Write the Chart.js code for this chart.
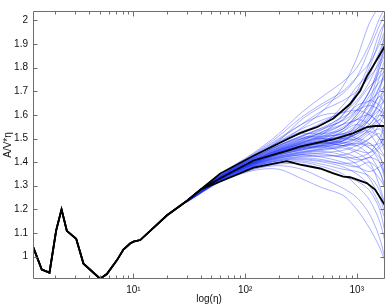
<!DOCTYPE html>
<html lang="en">
<head>
<meta charset="UTF-8">
<title>A/V*η</title>
<script src="https://cdn.jsdelivr.net/npm/chart.js"></script>
<style>
  body { margin: 0; background: #fff; }
  canvas { display: block; }
</style>
</head>
<body>
<canvas id="myChart" width="388" height="307"></canvas>
<script>
// black curves : one common start, then three branches
const etaStart = [1.26, 1.51, 1.77, 2.03, 2.27, 2.53, 3.07, 3.57, 5.03, 5.78, 7.1, 8.13, 9.33, 10, 11.5, 20, 30, 40];
const valStart = [1.042, 0.945, 0.932, 1.11, 1.20, 1.109, 1.075, 0.97, 0.906, 0.926, 0.984, 1.03, 1.055, 1.063, 1.07, 1.175, 1.235, 1.284];

const etaUpper = [60, 119, 236, 310, 438, 617, 871, 1071, 1229, 1617, 1794];
const valUpper = [1.352, 1.427, 1.496, 1.523, 1.548, 1.585, 1.646, 1.701, 1.762, 1.857, 1.893];
const etaMiddle = [60, 119, 236, 310, 617, 933, 1229, 1458, 1794];
const valMiddle = [1.332, 1.407, 1.448, 1.466, 1.496, 1.523, 1.548, 1.553, 1.553];
const etaLower = [60, 119, 236, 310, 469, 617, 758, 871, 1229, 1458, 1617, 1794];
const valLower = [1.318, 1.377, 1.404, 1.389, 1.373, 1.352, 1.339, 1.336, 1.311, 1.284, 1.25, 1.216];

// blue runs, all read at the same eta values
const etaBlue = [30, 60, 120, 200, 320, 500, 750, 1000, 1300, 1600, 1794];
const blueRuns = [
  [1.237,1.338,1.418,1.478,1.545,1.618,1.720,1.840,1.990,2.060,2.080],
  [1.238,1.341,1.425,1.490,1.580,1.640,1.690,1.760,1.880,1.980,2.030],
  [1.235,1.330,1.398,1.445,1.480,1.520,1.600,1.700,1.820,1.950,1.990],
  [1.235,1.333,1.402,1.440,1.462,1.470,1.500,1.560,1.660,1.800,1.900],
  [1.233,1.326,1.388,1.420,1.440,1.455,1.470,1.500,1.540,1.600,1.640],
  [1.239,1.345,1.432,1.500,1.560,1.600,1.610,1.620,1.600,1.560,1.520],
  [1.236,1.336,1.410,1.455,1.490,1.530,1.560,1.580,1.640,1.720,1.760],
  [1.234,1.329,1.395,1.430,1.450,1.470,1.440,1.420,1.380,1.330,1.290],
  [1.235,1.332,1.400,1.445,1.470,1.490,1.520,1.500,1.470,1.480,1.500],
  [1.232,1.322,1.380,1.405,1.410,1.400,1.380,1.350,1.300,1.220,1.160],
  [1.237,1.340,1.420,1.470,1.510,1.540,1.580,1.650,1.720,1.760,1.790],
  [1.234,1.328,1.392,1.425,1.445,1.460,1.490,1.530,1.590,1.650,1.700],
  [1.236,1.334,1.404,1.448,1.478,1.500,1.530,1.560,1.520,1.460,1.420],
  [1.233,1.325,1.386,1.415,1.430,1.420,1.400,1.380,1.360,1.380,1.400],
  [1.238,1.343,1.428,1.485,1.530,1.560,1.640,1.720,1.780,1.870,1.930],
  [1.235,1.331,1.397,1.435,1.460,1.480,1.470,1.450,1.440,1.470,1.520],
  [1.236,1.335,1.407,1.452,1.485,1.510,1.540,1.600,1.680,1.740,1.760],
  [1.231,1.320,1.376,1.398,1.400,1.380,1.350,1.300,1.240,1.150,1.060],
  [1.237,1.338,1.415,1.465,1.500,1.500,1.480,1.470,1.500,1.560,1.600],
  [1.234,1.329,1.394,1.432,1.455,1.475,1.500,1.520,1.560,1.620,1.680],
  [1.235,1.333,1.401,1.442,1.472,1.495,1.510,1.540,1.600,1.700,1.820],
  [1.233,1.327,1.390,1.423,1.440,1.450,1.460,1.440,1.400,1.300,1.220],
  [1.237,1.339,1.422,1.480,1.520,1.520,1.540,1.600,1.660,1.640,1.600],
  [1.234,1.330,1.396,1.438,1.465,1.490,1.530,1.580,1.600,1.560,1.540],
  [1.236,1.334,1.405,1.450,1.475,1.485,1.470,1.480,1.520,1.540,1.500],
  [1.232,1.324,1.384,1.412,1.425,1.430,1.420,1.390,1.330,1.250,1.180],
  [1.239,1.344,1.430,1.495,1.560,1.620,1.660,1.700,1.760,1.820,1.880],
  [1.235,1.332,1.399,1.440,1.468,1.488,1.500,1.490,1.460,1.420,1.380],
  [1.236,1.336,1.408,1.458,1.495,1.520,1.560,1.620,1.700,1.800,1.860],
  [1.232,1.321,1.378,1.400,1.405,1.390,1.370,1.360,1.340,1.280,1.200],
  [1.236,1.337,1.412,1.460,1.492,1.530,1.580,1.640,1.660,1.700,1.720],
  [1.235,1.331,1.398,1.436,1.458,1.465,1.480,1.500,1.480,1.440,1.420],
  [1.236,1.335,1.406,1.450,1.480,1.500,1.500,1.520,1.560,1.600,1.580],
  [1.233,1.326,1.389,1.418,1.432,1.440,1.450,1.470,1.500,1.520,1.460],
  [1.237,1.340,1.418,1.470,1.505,1.510,1.520,1.560,1.620,1.680,1.700],
  [1.235,1.333,1.402,1.445,1.470,1.480,1.490,1.510,1.550,1.580,1.560],
  [1.234,1.329,1.393,1.428,1.452,1.462,1.470,1.480,1.460,1.400,1.320],
  [1.235,1.334,1.403,1.447,1.476,1.492,1.505,1.530,1.580,1.660,1.740],
  [1.231,1.318,1.370,1.385,1.370,1.330,1.290,1.250,1.180,1.080,0.990],
  [1.238,1.342,1.426,1.488,1.540,1.580,1.610,1.660,1.740,1.840,1.960],
  [1.233,1.327,1.390,1.420,1.436,1.445,1.430,1.410,1.420,1.460,1.480],
  [1.236,1.335,1.405,1.452,1.482,1.505,1.540,1.580,1.560,1.500,1.460],
  [1.234,1.330,1.396,1.434,1.456,1.470,1.490,1.540,1.620,1.720,1.780],
  [1.232,1.323,1.382,1.408,1.418,1.410,1.390,1.380,1.400,1.360,1.280],
  [1.237,1.338,1.414,1.462,1.498,1.540,1.600,1.680,1.800,1.920,2.000],
  [1.240,1.350,1.440,1.520,1.610,1.680,1.740,1.800,1.900,2.010,2.050],
  [1.239,1.347,1.436,1.510,1.590,1.650,1.700,1.760,1.820,1.900,1.960],
  [1.230,1.316,1.365,1.370,1.330,1.290,1.260,1.200,1.120,1.040,0.980],
  [1.236,1.336,1.409,1.456,1.488,1.512,1.548,1.590,1.650,1.760,1.840],
  [1.234,1.330,1.397,1.437,1.462,1.478,1.485,1.470,1.430,1.360,1.300],
  [1.235,1.333,1.401,1.443,1.470,1.492,1.515,1.550,1.610,1.680,1.640],
  [1.233,1.327,1.391,1.424,1.443,1.455,1.465,1.490,1.530,1.560,1.500],
  [1.237,1.339,1.416,1.468,1.508,1.548,1.590,1.620,1.640,1.620,1.580],
  [1.232,1.323,1.383,1.410,1.422,1.425,1.430,1.450,1.480,1.430,1.340],
  [1.236,1.337,1.413,1.462,1.500,1.525,1.560,1.610,1.700,1.780,1.800],
  [1.234,1.329,1.394,1.431,1.452,1.468,1.480,1.500,1.530,1.500,1.440],
  [1.238,1.342,1.424,1.482,1.525,1.570,1.620,1.690,1.770,1.860,1.900],
  [1.233,1.325,1.387,1.416,1.432,1.435,1.420,1.420,1.440,1.500,1.560],
  [1.235,1.332,1.400,1.441,1.466,1.482,1.495,1.520,1.580,1.640,1.660],
  [1.231,1.319,1.372,1.392,1.392,1.370,1.340,1.320,1.280,1.200,1.100],
  [1.237,1.340,1.419,1.472,1.512,1.545,1.575,1.620,1.700,1.820,1.920],
  [1.234,1.331,1.398,1.437,1.460,1.474,1.490,1.520,1.540,1.580,1.620],
  [1.236,1.335,1.407,1.453,1.484,1.505,1.520,1.540,1.580,1.620,1.600],
  [1.232,1.322,1.381,1.406,1.414,1.405,1.395,1.400,1.420,1.400,1.340]
];

// ticks
const xMajor = [10, 100, 1000];
const xLabels = ['10\u00B9', '10\u00B2', '10\u00B3'];
const yTicks = [1, 1.1, 1.2, 1.3, 1.4, 1.5, 1.6, 1.7, 1.8, 1.9, 2];
const yLabels = ['1', '1.1', '1.2', '1.3', '1.4', '1.5', '1.6', '1.7', '1.8', '1.9', '2'];

const X_MIN = 1.26, X_MAX = 1790, Y_MIN = 0.905, Y_MAX = 2.04;

function pts(xs, ys) {
    return xs.map((x, i) => ({ x: x, y: ys[i] }));
}

// minor log ticks 2..9 of each decade
const xMinor = [];
[1, 10, 100, 1000].forEach(d => {
    for (let k = 2; k <= 9; k++) {
        const v = k * d;
        if (v > X_MIN && v < X_MAX) xMinor.push(v);
    }
});

const datasets = [];
[[etaUpper, valUpper], [etaMiddle, valMiddle], [etaLower, valLower]].forEach(b => {
    datasets.push({
        data: pts(etaStart.concat(b[0]), valStart.concat(b[1])),
        borderColor: '#000',
        borderWidth: 1.8,
        tension: 0
    });
});
blueRuns.forEach(run => {
    datasets.push({
        data: pts(etaBlue, run),
        borderColor: 'rgba(30, 50, 255, 0.42)',
        borderWidth: 0.9,
        tension: 0.3
    });
});

// matlab style box with ticks pointing inside
const matlabAxes = {
    id: 'matlabAxes',
    afterDatasetsDraw(chart) {
        const { ctx, chartArea: a, scales: { x, y } } = chart;
        const L = Math.round(a.left) + 0.5, R = Math.round(a.right) - 0.5;
        const T = Math.round(a.top) + 0.5, B = Math.round(a.bottom) - 0.5;
        ctx.save();
        ctx.strokeStyle = '#6e6e6e';
        ctx.lineWidth = 1;
        ctx.beginPath();
        ctx.rect(L, T, R - L, B - T);
        yTicks.forEach(v => {
            const p = Math.round(y.getPixelForValue(v)) + 0.5;
            ctx.moveTo(L, p); ctx.lineTo(L + 4, p);
            ctx.moveTo(R, p); ctx.lineTo(R - 4, p);
        });
        xMajor.forEach(v => {
            const p = Math.round(x.getPixelForValue(v)) + 0.5;
            ctx.moveTo(p, B); ctx.lineTo(p, B - 5);
            ctx.moveTo(p, T); ctx.lineTo(p, T + 5);
        });
        xMinor.forEach(v => {
            const p = Math.round(x.getPixelForValue(v)) + 0.5;
            ctx.moveTo(p, B); ctx.lineTo(p, B - 3);
            ctx.moveTo(p, T); ctx.lineTo(p, T + 3);
        });
        ctx.stroke();
        ctx.restore();
    }
};

const font = { family: 'Liberation Sans, Arial, sans-serif', size: 10 };

new Chart(document.getElementById('myChart'), {
    type: 'line',
    data: { datasets: datasets },
    plugins: [matlabAxes],
    options: {
        responsive: false,
        animation: false,
        devicePixelRatio: 1,
        layout: { padding: { left: 0, right: 3, top: 3, bottom: 0 } },
        elements: { point: { radius: 0 } },
        plugins: { legend: { display: false }, tooltip: { enabled: false } },
        scales: {
            x: {
                type: 'logarithmic',
                min: X_MIN,
                max: X_MAX,
                grid: { display: false, drawTicks: false },
                border: { display: false },
                afterBuildTicks: s => { s.ticks = xMajor.map(v => ({ value: v })); },
                afterFit: s => { s.height = 28; },
                ticks: {
                    font: font, color: '#111', padding: 5, maxRotation: 0,
                    callback: (v, i) => xLabels[i]
                },
                title: { display: true, text: 'log(\u03B7)', font: font, color: '#111', padding: { top: 0, bottom: 2 } }
            },
            y: {
                min: Y_MIN,
                max: Y_MAX,
                grid: { display: false, drawTicks: false },
                border: { display: false },
                afterBuildTicks: s => { s.ticks = yTicks.map(v => ({ value: v })); },
                afterFit: s => { s.width = 33; },
                ticks: {
                    font: font, color: '#111', padding: 5,
                    callback: (v, i) => yLabels[i]
                },
                title: { display: true, text: 'A/V*\u03B7', font: font, color: '#111', padding: { top: 2, bottom: 0 } }
            }
        }
    }
});
</script>
</body>
</html>
